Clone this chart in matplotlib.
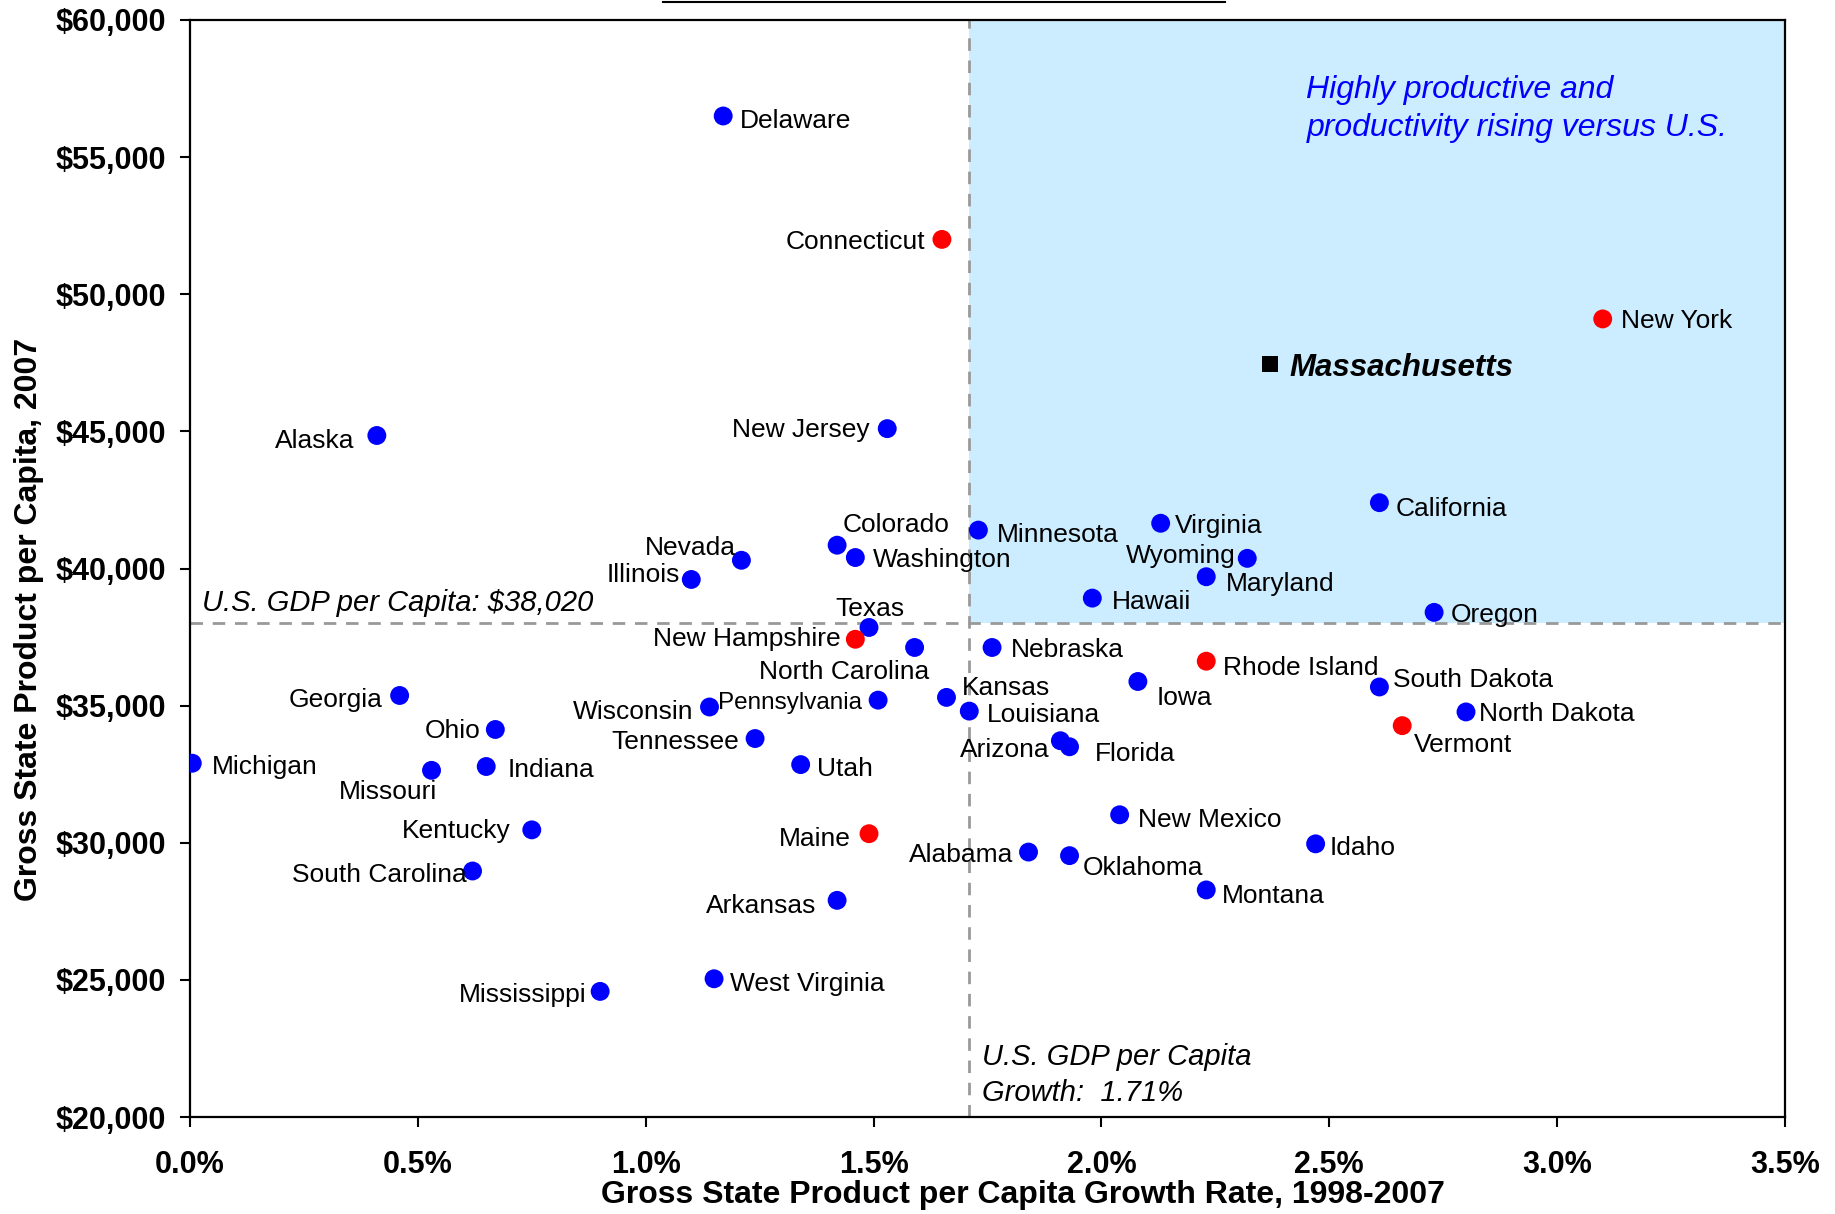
import matplotlib
matplotlib.use("Agg")
import matplotlib.pyplot as plt
from matplotlib.lines import Line2D
from matplotlib.ticker import FuncFormatter

plt.rcParams['font.family'] = ['Liberation Sans', 'DejaVu Sans']

# ---------------- data ----------------
states = ["Delaware", "Connecticut", "New York", "Alaska", "New Jersey", "California",
          "Minnesota", "Virginia", "Colorado", "Washington", "Nevada", "Wyoming",
          "Illinois", "Maryland", "Hawaii", "Oregon", "Texas", "New Hampshire",
          "North Carolina", "Nebraska", "Rhode Island", "Iowa", "South Dakota", "Georgia",
          "Kansas", "Pennsylvania", "Wisconsin", "Louisiana", "North Dakota", "Vermont",
          "Ohio", "Tennessee", "Arizona", "Florida", "Michigan", "Utah", "Indiana",
          "Missouri", "New Mexico", "Kentucky", "Maine", "Idaho", "Alabama", "Oklahoma",
          "South Carolina", "Montana", "Arkansas", "West Virginia", "Mississippi"]
growth = [1.17, 1.65, 3.10, 0.41, 1.53, 2.61,
          1.73, 2.13, 1.42, 1.46, 1.21, 2.32,
          1.10, 2.23, 1.98, 2.73, 1.49, 1.46,
          1.59, 1.76, 2.23, 2.08, 2.61, 0.46,
          1.66, 1.51, 1.14, 1.71, 2.80, 2.66,
          0.67, 1.24, 1.91, 1.93, 0.005, 1.34, 0.65,
          0.53, 2.04, 0.75, 1.49, 2.47, 1.84, 1.93,
          0.62, 2.23, 1.42, 1.15, 0.90]
gsp = [56500, 52000, 49100, 44850, 45100, 42400,
       41400, 41650, 40850, 40400, 40300, 40370,
       39600, 39700, 38920, 38400, 37850, 37420,
       37120, 37120, 36620, 35880, 35680, 35370,
       35300, 35200, 34950, 34800, 34770, 34270,
       34130, 33800, 33720, 33500, 32900, 32850, 32780,
       32640, 31020, 30470, 30330, 29960, 29660, 29530,
       28970, 28280, 27900, 25040, 24580]
new_england = {"Connecticut", "New York", "New Hampshire", "Rhode Island", "Vermont", "Maine"}

ma_name = "Massachusetts"
ma_growth = 2.37
ma_gsp = 47450

us_gdp_per_capita = 38020
us_growth = 1.71

x_ticks = [0.0, 0.5, 1.0, 1.5, 2.0, 2.5, 3.0, 3.5]
y_ticks = [20000, 25000, 30000, 35000, 40000, 45000, 50000, 55000, 60000]

# ---------------- label layout (offsets in reference px: right, down) ----------------
label_layout = {
    "Delaware": (14, 2, "left"), "Connecticut": (-14, 0, "right"), "New York": (16, 0, "left"),
    "Alaska": (-19, 3, "right"), "New Jersey": (-15, -1, "right"), "California": (14, 3, "left"),
    "Minnesota": (16, 2, "left"), "Virginia": (12, 0, "left"), "Colorado": (5, -19, "left"),
    "Washington": (15, 0, "left"), "Nevada": (-5, -13, "right"), "Wyoming": (-10, -4, "right"),
    "Illinois": (-10, -6, "right"), "Maryland": (17, 4, "left"), "Hawaii": (17, 1, "left"),
    "Oregon": (14, 0, "left"), "Texas": (1, -18, "center"), "New Hampshire": (-13, -2, "right"),
    "North Carolina": (-60, 19, "center"), "Nebraska": (16, 0, "left"), "Rhode Island": (14, 4, "left"),
    "Iowa": (16, 12, "left"), "South Dakota": (12, -8, "left"), "Georgia": (-15, 2, "right"),
    "Kansas": (13, -10, "left"), "Pennsylvania": (-14, 0, "right"), "Wisconsin": (-14, 2, "right"),
    "Louisiana": (15, 1, "left"), "North Dakota": (11, 0, "left"), "Vermont": (10, 14, "left"),
    "Ohio": (-13, -1, "right"), "Tennessee": (-14, 1, "right"), "Arizona": (-9, 6, "right"),
    "Florida": (22, 4, "left"), "Michigan": (17, 1, "left"), "Utah": (14, 2, "left"),
    "Indiana": (18, 1, "left"), "Missouri": (5, 16, "right"), "New Mexico": (16, 2, "left"),
    "Kentucky": (-18, -1, "right"), "Maine": (-16, 2, "right"), "Idaho": (12, 1, "left"),
    "Alabama": (-13, 0, "right"), "Oklahoma": (11, 8, "left"), "South Carolina": (-5, 1, "right"),
    "Montana": (13, 3, "left"), "Arkansas": (-18, 3, "right"), "West Virginia": (14, 2, "left"),
    "Mississippi": (-12, 1, "right"),
}
PX2PT = (1835 / 1568) * 0.72

# ---------------- figure ----------------
fig = plt.figure(figsize=(18.35, 12.14), dpi=100)
ax = fig.add_axes([190 / 1835, 1 - 1117 / 1214, 1595 / 1835, 1097 / 1214])

ax.set_xlim(x_ticks[0], x_ticks[-1])
ax.set_ylim(y_ticks[0], y_ticks[-1])

# highlighted quadrant
ax.axvspan(us_growth, x_ticks[-1], ymin=(us_gdp_per_capita - y_ticks[0]) / (y_ticks[-1] - y_ticks[0]),
           ymax=1, color="#CCECFF", lw=0, zorder=0)

ax.axhline(us_gdp_per_capita, color="#999999", lw=2.0, ls=(0, (4.5, 3.5)), zorder=1)
ax.axvline(us_growth, color="#999999", lw=2.0, ls=(0, (4.5, 3.5)), zorder=1)

colors = ["#FF0000" if s in new_england else "#0000FF" for s in states]
ax.scatter(growth, gsp, s=185, c=colors, edgecolors="none", zorder=3)
ax.scatter([ma_growth], [ma_gsp], s=140, marker="s", c="black", edgecolors="none", zorder=3)

for s, gx, gy in zip(states, growth, gsp):
    dx, dy, ha = label_layout[s]
    fs = 17.5 if s == "Pennsylvania" else 19
    ax.annotate(s, (gx, gy), xytext=(dx * PX2PT, -dy * PX2PT), textcoords="offset points",
                ha=ha, va="center_baseline", fontsize=fs, color="black", zorder=4)

ax.annotate(ma_name, (ma_growth, ma_gsp), xytext=(17 * PX2PT, 0), textcoords="offset points",
            ha="left", va="center_baseline", fontsize=22.5, fontweight="bold", style="italic", zorder=4)

# annotations
ax.annotate("U.S. GDP per Capita: $38,020", (0.026, us_gdp_per_capita), xytext=(0, 4),
            textcoords="offset points", ha="left", va="bottom", fontsize=21, style="italic")
ax.text(us_growth + 0.027, 22300, "U.S. GDP per Capita", ha="left", va="center_baseline",
        fontsize=21, style="italic")
ax.text(us_growth + 0.027, 20980, "Growth:  1.71%", ha="left", va="center_baseline",
        fontsize=21, style="italic")
ax.text(2.45, 57570, "Highly productive and", ha="left", va="center_baseline",
        fontsize=23, style="italic", color="#0000FF")
ax.text(2.45, 56200, "productivity rising versus U.S.", ha="left", va="center_baseline",
        fontsize=23, style="italic", color="#0000FF")

# axes styling
ax.set_xticks(x_ticks)
ax.set_yticks(y_ticks)
ax.xaxis.set_major_formatter(FuncFormatter(lambda v, p: f"{v:.1f}%"))
ax.yaxis.set_major_formatter(FuncFormatter(lambda v, p: f"${v:,.0f}"))
for lab in ax.get_xticklabels() + ax.get_yticklabels():
    lab.set_fontweight("bold")
ax.tick_params(axis="both", direction="out", length=7, width=1.5, labelsize=22)
ax.tick_params(axis="x", pad=17)
ax.tick_params(axis="y", pad=10)
for sp in ax.spines.values():
    sp.set_linewidth(1.6)
    sp.set_color("black")

fig.text(1023 / 1835, 1 - 1195 / 1214, "Gross State Product per Capita Growth Rate, 1998-2007",
         ha="center", va="center", fontsize=23, fontweight="bold")
fig.text(29 / 1835, 1 - 619 / 1214, "Gross State Product per Capita, 2007",
         ha="center", va="center", rotation=90, fontsize=23, fontweight="bold")

# cut-off title underline at the very top
fig.add_artist(Line2D([663 / 1835, 1225 / 1835], [1 - 1.5 / 1214] * 2, transform=fig.transFigure,
                      color="black", lw=1.5))

fig.savefig("out.png", dpi=100, facecolor="white")
